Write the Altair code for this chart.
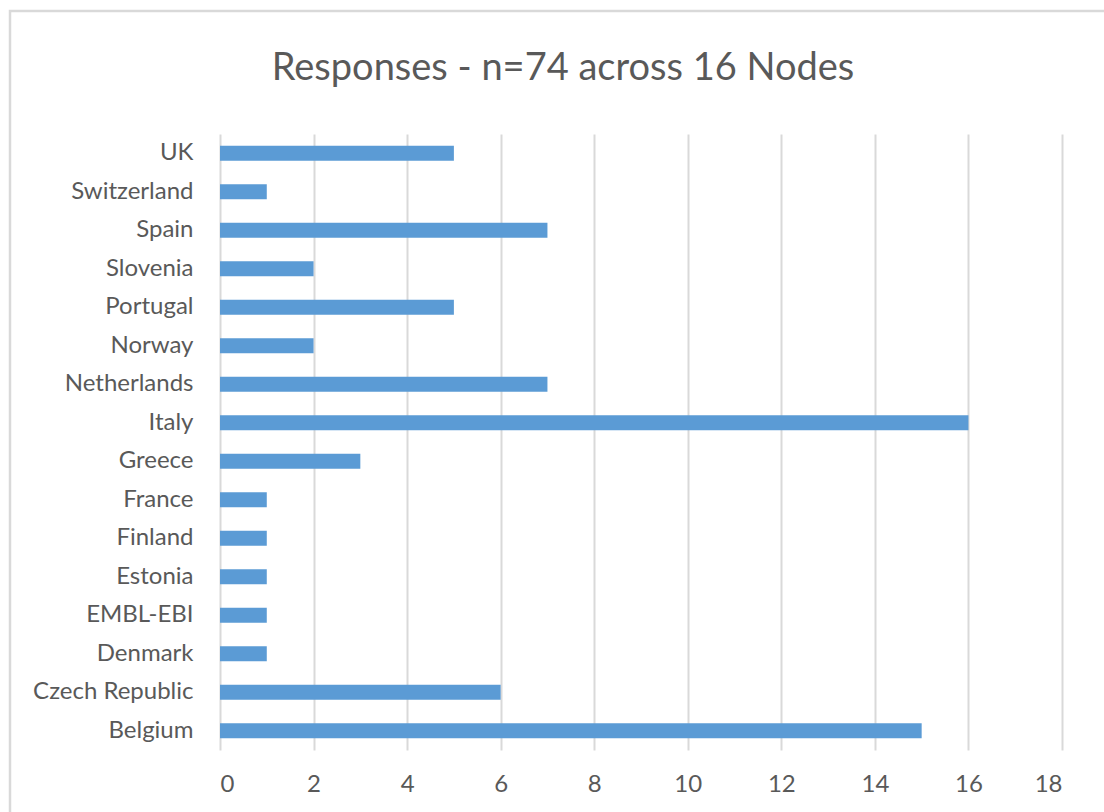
import altair as alt
import pandas as pd

# Responses per node, listed top to bottom as drawn
nodes = ["UK", "Switzerland", "Spain", "Slovenia", "Portugal", "Norway",
         "Netherlands", "Italy", "Greece", "France", "Finland", "Estonia",
         "EMBL-EBI", "Denmark", "Czech Republic", "Belgium"]
responses = [5, 1, 7, 2, 5, 2, 7, 16, 3, 1, 1, 1, 1, 1, 6, 15]
x_ticks = [0, 2, 4, 6, 8, 10, 12, 14, 16, 18]

df = pd.DataFrame({"node": nodes, "responses": responses})

FONT = "Lato"
GREY = "#595959"
GRID = "#d9d9d9"

W, H = 842, 616

bars = alt.Chart(df).mark_bar(color="#5b9bd5").encode(
    x=alt.X("responses:Q",
            scale=alt.Scale(domain=[0, 18], nice=False),
            axis=alt.Axis(values=x_ticks, title=None, domain=False, ticks=False,
                          grid=True, gridColor=GRID, gridWidth=2,
                          labelFontSize=24, labelColor=GREY, labelFont=FONT,
                          labelPadding=22)),
    y=alt.Y("node:N", sort=nodes,
            scale=alt.Scale(paddingInner=0.61, paddingOuter=0.305),
            axis=alt.Axis(title=None, domain=False, ticks=False, grid=False,
                          labelFontSize=24, labelColor=GREY, labelFont=FONT,
                          labelPadding=27)),
)

# Outer frame around the whole chart
frame = alt.Chart(alt.Data(values=[{}])).mark_rect(
    fill=None, stroke=GRID, strokeWidth=2.5
).encode(
    x=alt.value(-210), x2=alt.value(W + 60),
    y=alt.value(-123), y2=alt.value(H + 80),
)

# The title sits relative to the frame's top edge (y = -123 in plot space)
chart = alt.layer(frame, bars).properties(
    width=W, height=H,
    background="white",
    title=alt.TitleParams("Responses - n=74 across 16 Nodes",
                          fontSize=38, font=FONT, fontWeight="normal",
                          color=GREY, anchor="middle", dx=-78, offset=-78),
    autosize=alt.AutoSizeParams(type="none"),
    padding={"left": 220, "top": 134, "right": 42, "bottom": 62},
).configure_view(stroke="transparent", strokeWidth=0)

chart.save("out.html", embed_options={"renderer": "svg", "actions": False})
